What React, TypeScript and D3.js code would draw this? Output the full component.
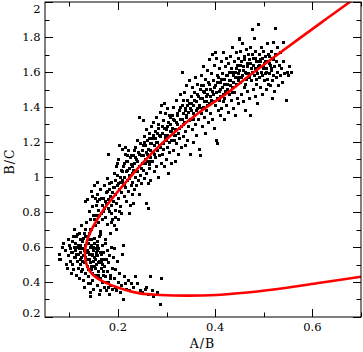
import React, { useRef, useEffect } from "react";
import { select, scaleLinear, line, curveCatmullRom, range } from "d3";

// red model curve (A/B, B/C)
const curveX = [0.700, 0.609, 0.540, 0.472, 0.403, 0.341, 0.287, 0.245, 0.204, 0.170, 0.149, 0.137, 0.132, 0.137, 0.149, 0.170, 0.197, 0.232, 0.273, 0.314, 0.369, 0.424, 0.472, 0.527, 0.616, 0.677, 0.692];
const curveY = [0.430, 0.393, 0.364, 0.341, 0.326, 0.322, 0.326, 0.335, 0.364, 0.402, 0.440, 0.487, 0.564, 0.640, 0.716, 0.811, 0.907, 1.021, 1.145, 1.250, 1.373, 1.478, 1.583, 1.697, 1.878, 2.000, 2.030];

// lower clump of points
const clumpPoints = [
  [0.080,0.56],[0.082,0.53],[0.086,0.60],[0.089,0.62],[0.092,0.58],[0.094,0.50],[0.097,0.48],
  [0.098,0.64],[0.099,0.55],[0.101,0.61],[0.102,0.59],[0.103,0.52],[0.104,0.57],[0.105,0.45],[0.106,0.63],[0.107,0.50],[0.108,0.47],[0.109,0.66],[0.110,0.54],
  [0.111,0.70],[0.112,0.62],[0.113,0.58],[0.114,0.44],[0.115,0.66],[0.116,0.52],[0.117,0.60],[0.118,0.48],[0.119,0.56],[0.120,0.42],[0.121,0.68],[0.122,0.64],[0.123,0.50],[0.124,0.57],[0.125,0.46],[0.113,0.54],[0.118,0.61],[0.122,0.53],[0.116,0.67],
  [0.126,0.72],[0.127,0.59],[0.128,0.63],[0.129,0.55],[0.130,0.41],[0.131,0.68],[0.132,0.51],[0.133,0.61],[0.134,0.45],[0.135,0.57],[0.136,0.66],[0.137,0.49],[0.138,0.53],[0.139,0.39],[0.140,0.62],[0.128,0.47],[0.131,0.37],[0.134,0.70],[0.137,0.58],[0.126,0.54],[0.139,0.43],
  [0.141,0.56],[0.142,0.68],[0.143,0.51],[0.144,0.60],[0.145,0.47],[0.146,0.64],[0.147,0.55],[0.148,0.41],[0.149,0.58],[0.150,0.36],[0.151,0.62],[0.152,0.49],[0.153,0.53],[0.154,0.44],[0.155,0.57],[0.143,0.39],[0.146,0.70],[0.149,0.52],[0.152,0.65],[0.144,0.34],[0.150,0.60],[0.147,0.45],
  [0.156,0.50],[0.157,0.63],[0.158,0.38],[0.159,0.55],[0.160,0.46],[0.161,0.59],[0.162,0.42],[0.163,0.52],[0.164,0.35],[0.165,0.67],[0.166,0.48],[0.167,0.56],[0.168,0.40],[0.169,0.61],[0.170,0.44],[0.158,0.58],[0.163,0.33],[0.167,0.51],
  [0.171,0.57],[0.172,0.37],[0.173,0.49],[0.174,0.62],[0.175,0.43],[0.176,0.53],[0.177,0.35],[0.178,0.46],[0.179,0.58],[0.180,0.40],[0.181,0.51],[0.182,0.33],[0.183,0.55],[0.184,0.44],[0.185,0.38],[0.187,0.60],[0.188,0.48],[0.189,0.36],
  [0.191,0.54],[0.192,0.42],[0.193,0.59],[0.194,0.37],[0.196,0.47],[0.197,0.35],[0.199,0.52],[0.201,0.40],[0.203,0.45],[0.205,0.34],[0.207,0.38],[0.209,0.56],
  [0.211,0.61],[0.213,0.43],[0.215,0.39],[0.218,0.36],[0.221,0.41],[0.224,0.35],[0.212,0.30],
  [0.193,0.72],[0.198,0.70],[0.186,0.74],[0.201,0.76],[0.207,0.79],[0.079,0.526],[0.143,0.32],
  [0.131,0.58],[0.134,0.54],[0.137,0.62],[0.140,0.57],[0.142,0.53],[0.145,0.61],[0.148,0.56],[0.151,0.54],[0.153,0.59],[0.156,0.55],[0.159,0.61],[0.161,0.51],[0.164,0.57],[0.166,0.53],[0.169,0.50],
  [0.124,0.61],[0.127,0.52],[0.129,0.65],[0.139,0.47],[0.146,0.49],[0.154,0.48],[0.160,0.44],[0.165,0.42],[0.171,0.46],[0.176,0.40],[0.180,0.37],[0.185,0.42],[0.173,0.53],
  [0.120,0.59],[0.115,0.56],[0.110,0.60],[0.106,0.57],[0.133,0.66],[0.141,0.64],
];

// points trailing along the lower branch
const tailPoints = [
  [0.232,0.37],[0.236,0.43],[0.240,0.39],[0.246,0.35],[0.251,0.34],[0.256,0.36],[0.259,0.37],[0.263,0.33],
  [0.268,0.43],[0.271,0.35],[0.274,0.32],[0.281,0.34],[0.288,0.27],[0.290,0.42],[0.228,0.39],
];

// upper band of points
const bandPoints = [
  [0.134,0.86],[0.138,0.87],[0.141,0.80],[0.143,0.76],[0.145,0.92],[0.147,0.83],[0.149,0.78],[0.136,0.74],[0.144,0.70],[0.148,0.89],
  [0.151,0.95],[0.153,0.72],[0.155,0.84],[0.156,0.78],[0.158,0.90],[0.160,0.81],[0.161,0.74],[0.163,0.87],[0.164,0.69],[0.165,0.93],[0.167,0.79],[0.168,0.84],[0.169,0.76],[0.157,0.97],[0.162,0.66],
  [0.152,0.76],[0.159,0.86],[0.166,0.88],[0.170,0.80],[0.174,0.86],[0.178,0.92],[0.182,0.96],[0.186,0.79],[0.190,0.94],[0.154,0.88],[0.162,0.78],[0.180,0.82],
  [0.171,0.88],[0.172,0.82],[0.173,0.95],[0.175,0.77],[0.176,0.91],[0.177,0.85],[0.178,0.99],[0.179,0.73],[0.181,0.87],[0.182,0.80],[0.183,0.93],[0.184,0.68],[0.185,0.89],[0.186,0.84],[0.187,0.97],[0.188,0.76],[0.189,0.91],[0.180,1.13],[0.174,0.64],
  [0.191,0.86],[0.192,1.02],[0.193,0.94],[0.194,0.81],[0.195,0.98],[0.196,0.90],[0.197,1.06],[0.198,0.85],[0.199,0.95],[0.200,1.01],[0.201,0.88],[0.202,1.10],[0.203,0.93],[0.204,1.18],[0.205,0.97],[0.206,0.83],[0.207,1.04],[0.208,0.91],[0.209,1.16],[0.195,0.77],[0.203,0.80],[0.199,1.08],
  [0.211,0.96],[0.212,1.06],[0.213,0.89],[0.214,1.00],[0.215,1.13],[0.216,0.94],[0.217,1.03],[0.218,0.86],[0.219,1.09],[0.220,0.98],[0.221,1.15],[0.222,0.92],[0.223,1.05],[0.224,1.01],[0.225,0.84],[0.226,1.11],[0.227,0.95],[0.228,1.07],[0.229,0.90],[0.216,1.17],[0.224,0.79],[0.230,1.02],
  [0.202,0.96],[0.206,1.00],[0.210,1.03],[0.213,0.95],[0.217,1.09],[0.220,1.04],[0.223,0.99],[0.227,1.12],[0.231,1.06],[0.234,1.15],[0.238,1.03],[0.241,1.09],[0.245,1.13],[0.248,1.05],[0.214,1.08],[0.209,0.98],[0.219,1.12],[0.236,1.11],
  [0.231,0.97],[0.232,1.12],[0.233,1.04],[0.234,0.93],[0.235,1.08],[0.236,1.00],[0.237,1.17],[0.238,0.95],[0.239,1.10],[0.240,1.03],[0.241,1.21],[0.242,0.98],[0.243,1.14],[0.244,1.06],[0.245,0.90],[0.246,1.19],[0.247,1.01],[0.248,1.12],[0.249,0.96],[0.244,1.34],[0.250,1.08],[0.233,0.85],
  [0.251,1.15],[0.252,1.32],[0.253,1.04],[0.254,1.23],[0.255,0.99],[0.256,1.18],[0.257,1.10],[0.258,1.27],[0.259,1.02],[0.260,1.13],[0.261,1.21],[0.262,0.96],[0.263,1.16],[0.264,1.07],[0.265,1.25],[0.266,1.11],[0.267,0.98],[0.268,1.19],[0.269,1.29],[0.259,0.85],[0.262,0.82],[0.265,1.05],[0.256,1.08],
  [0.252,1.12],[0.255,1.20],[0.258,1.14],[0.261,1.09],[0.264,1.22],[0.267,1.15],[0.270,1.19],[0.273,1.24],[0.276,1.13],[0.279,1.20],[0.282,1.25],[0.285,1.18],[0.288,1.23],[0.291,1.29],[0.294,1.16],[0.297,1.24],[0.253,1.18],[0.268,1.09],[0.284,1.30],[0.299,1.21],
  [0.271,1.09],[0.272,1.22],[0.273,1.14],[0.274,1.31],[0.275,1.03],[0.276,1.18],[0.277,1.26],[0.278,1.11],[0.279,1.34],[0.280,1.06],[0.281,1.20],[0.282,1.15],[0.283,1.28],[0.284,1.00],[0.285,1.24],[0.286,1.12],[0.287,1.37],[0.288,1.17],[0.289,1.08],[0.290,1.41],[0.278,1.22],
  [0.291,1.25],[0.292,1.13],[0.293,1.32],[0.294,1.19],[0.295,1.06],[0.296,1.28],[0.297,1.22],[0.298,1.36],[0.299,1.10],[0.300,1.27],[0.301,1.17],[0.302,1.39],[0.303,1.24],[0.304,1.02],[0.305,1.31],[0.306,1.20],[0.307,1.14],[0.308,1.34],[0.309,1.26],[0.310,1.08],[0.296,1.42],
  [0.302,1.29],[0.305,1.23],[0.308,1.30],[0.311,1.26],[0.314,1.33],[0.317,1.21],[0.320,1.31],[0.323,1.35],[0.326,1.28],[0.329,1.40],[0.332,1.33],[0.335,1.30],[0.338,1.38],[0.341,1.35],[0.344,1.41],[0.347,1.32],[0.306,1.35],[0.319,1.24],[0.334,1.44],[0.349,1.39],
  [0.311,1.21],[0.312,1.35],[0.313,1.28],[0.314,1.15],[0.315,1.40],[0.316,1.24],[0.317,1.32],[0.318,1.09],[0.319,1.27],[0.320,1.44],[0.321,1.19],[0.322,1.36],[0.323,1.30],[0.324,1.13],[0.325,1.25],[0.326,1.38],[0.327,1.22],[0.328,1.47],[0.329,1.33],[0.330,1.17],
  [0.331,1.29],[0.332,1.41],[0.333,1.60],[0.334,1.23],[0.335,1.36],[0.336,1.48],[0.337,1.31],[0.338,1.18],[0.339,1.39],[0.340,1.26],[0.341,1.52],[0.342,1.34],[0.343,1.44],[0.344,1.21],[0.345,1.37],[0.346,1.29],[0.347,1.55],[0.348,1.42],[0.349,1.13],[0.350,1.33],
  [0.352,1.42],[0.355,1.36],[0.358,1.44],[0.361,1.38],[0.364,1.47],[0.367,1.40],[0.370,1.45],[0.373,1.39],[0.376,1.49],[0.379,1.43],[0.382,1.50],[0.385,1.41],[0.388,1.53],[0.391,1.46],[0.394,1.49],[0.397,1.43],[0.356,1.33],[0.371,1.52],[0.383,1.46],[0.398,1.51],
  [0.351,1.46],[0.352,1.38],[0.353,1.27],[0.354,1.51],[0.355,1.41],[0.356,1.20],[0.357,1.35],[0.358,1.48],[0.359,1.30],[0.360,1.57],[0.361,1.43],[0.362,1.24],[0.363,1.39],[0.364,1.53],[0.365,1.33],[0.366,1.46],[0.367,1.16],[0.368,1.41],[0.369,1.12],[0.370,1.50],
  [0.371,1.36],[0.372,1.58],[0.373,1.45],[0.374,1.29],[0.375,1.52],[0.376,1.40],[0.377,1.63],[0.378,1.34],[0.379,1.48],[0.380,1.25],[0.381,1.56],[0.382,1.43],[0.383,1.38],[0.384,1.61],[0.385,1.47],[0.386,1.31],[0.387,1.54],[0.388,1.42],[0.389,1.67],[0.390,1.36],
  [0.391,1.50],[0.392,1.44],[0.393,1.59],[0.394,1.33],[0.395,1.70],[0.396,1.47],[0.397,1.55],[0.398,1.28],[0.399,1.64],[0.400,1.41],[0.401,1.52],[0.402,1.21],[0.403,1.68],[0.404,1.45],[0.405,1.19],[0.406,1.57],[0.407,1.38],[0.408,1.49],[0.409,1.62],[0.410,1.35],[0.400,1.71],
  [0.402,1.48],[0.405,1.54],[0.408,1.44],[0.411,1.50],[0.414,1.56],[0.417,1.47],[0.420,1.53],[0.423,1.58],[0.426,1.50],[0.429,1.55],[0.432,1.52],[0.435,1.60],[0.438,1.54],[0.441,1.57],[0.444,1.62],[0.447,1.55],[0.404,1.58],[0.419,1.45],[0.436,1.48],[0.449,1.59],
  [0.411,1.54],[0.412,1.46],[0.413,1.66],[0.414,1.39],[0.415,1.59],[0.416,1.51],[0.417,1.71],[0.418,1.43],[0.419,1.56],[0.420,1.33],[0.421,1.63],[0.422,1.49],[0.423,1.68],[0.424,1.41],[0.425,1.58],[0.426,1.53],[0.427,1.37],[0.428,1.65],[0.429,1.47],[0.430,1.60],
  [0.431,1.55],[0.432,1.69],[0.433,1.44],[0.434,1.62],[0.435,1.51],[0.436,1.74],[0.437,1.39],[0.438,1.58],[0.439,1.66],[0.440,1.48],[0.441,1.60],[0.442,1.35],[0.443,1.71],[0.444,1.53],[0.445,1.64],[0.446,1.45],[0.447,1.57],[0.448,1.68],[0.449,1.42],[0.450,1.79],[0.451,1.787],
  [0.452,1.64],[0.455,1.57],[0.458,1.61],[0.461,1.67],[0.464,1.59],[0.467,1.63],[0.470,1.57],[0.473,1.65],[0.476,1.60],[0.479,1.68],[0.482,1.62],[0.485,1.66],[0.488,1.59],[0.491,1.64],[0.494,1.67],[0.497,1.58],[0.500,1.62],[0.503,1.66],[0.506,1.60],[0.509,1.70],[0.512,1.65],[0.515,1.62],[0.518,1.68],[0.463,1.53],[0.486,1.56],
  [0.451,1.61],[0.452,1.54],[0.453,1.72],[0.454,1.47],[0.455,1.66],[0.456,1.58],[0.457,1.76],[0.458,1.43],[0.459,1.63],[0.460,1.69],[0.461,1.51],[0.462,1.60],[0.463,1.38],[0.464,1.73],[0.465,1.56],[0.466,1.65],[0.467,1.49],[0.468,1.70],[0.469,1.59],[0.470,1.45],
  [0.471,1.67],[0.472,1.35],[0.473,1.74],[0.474,1.55],[0.475,1.62],[0.476,1.84],[0.477,1.70],[0.478,1.50],[0.479,1.64],[0.480,1.79],[0.481,1.58],[0.482,1.68],[0.483,1.46],[0.484,1.72],[0.485,1.61],[0.486,1.53],[0.487,1.66],[0.488,1.42],[0.489,1.87],[0.490,1.63],
  [0.491,1.70],[0.492,1.57],[0.493,1.66],[0.494,1.51],[0.495,1.74],[0.496,1.60],[0.497,1.68],[0.498,1.47],[0.499,1.63],[0.500,1.72],[0.501,1.55],[0.502,1.65],[0.503,1.59],[0.504,1.69],[0.505,1.50],[0.506,1.62],[0.507,1.76],[0.508,1.56],[0.509,1.66],[0.510,1.53],
  [0.511,1.69],[0.512,1.59],[0.513,1.64],[0.514,1.52],[0.515,1.72],[0.516,1.61],[0.517,1.55],[0.518,1.45],[0.519,1.67],[0.520,1.77],[0.521,1.58],[0.522,1.63],[0.523,1.49],[0.524,1.85],[0.525,1.70],[0.526,1.57],[0.527,1.66],[0.528,1.60],[0.529,1.74],[0.530,1.52],
  [0.532,1.64],[0.534,1.58],[0.535,1.71],[0.537,1.62],[0.538,1.54],[0.540,1.77],[0.541,1.66],[0.543,1.59],[0.546,1.44],[0.548,1.60],[0.551,1.58],[0.553,1.63],[0.557,1.60],
];

const xMajor = [0.2, 0.4, 0.6];
const xMinor = [0.1, 0.3, 0.5, 0.7];
const yMajor = [0.2, 0.4, 0.6, 0.8, 1, 1.2, 1.4, 1.6, 1.8, 2];
const yMinor = [0.3, 0.5, 0.7, 0.9, 1.1, 1.3, 1.5, 1.7, 1.9];

export default function App() {
  const svgRef = useRef(null);

  useEffect(() => {
    const svg = select(svgRef.current);
    svg.selectAll("*").remove();

    const width = 363;
    const height = 352;
    const margin = { top: 2, right: 2, bottom: 35, left: 45 };
    const x0 = margin.left, x1 = width - margin.right;
    const y0 = height - margin.bottom, y1 = margin.top;

    const xScale = scaleLinear().domain([0.05, 0.7]).range([x0, x1]);
    const yScale = scaleLinear().domain([0.2, 2.0]).range([y0, y1]);

    svg.append("defs").append("clipPath").attr("id", "plotclip")
      .append("rect").attr("x", x0).attr("y", y1).attr("width", x1 - x0).attr("height", y0 - y1);

    const font = "'DejaVu Serif', 'Liberation Serif', serif";

    // points
    const allPoints = [...clumpPoints, ...tailPoints, ...bandPoints];
    svg.append("g")
      .selectAll("rect")
      .data(allPoints)
      .join("rect")
      .attr("x", d => Math.round(xScale(d[0]) - 1.5))
      .attr("y", d => Math.round(yScale(d[1]) - 1.5))
      .attr("width", 3)
      .attr("height", 3)
      .attr("fill", "#000")
      .attr("shape-rendering", "crispEdges");

    // red curve
    const curveData = range(curveX.length).map(i => [curveX[i], curveY[i]]);
    const curveGen = line()
      .x(d => xScale(d[0]))
      .y(d => yScale(d[1]))
      .curve(curveCatmullRom.alpha(0.5));
    svg.append("path")
      .datum(curveData)
      .attr("d", curveGen)
      .attr("fill", "none")
      .attr("stroke", "#ff0000")
      .attr("stroke-width", 2.6)
      .attr("clip-path", "url(#plotclip)");

    // frame
    svg.append("rect")
      .attr("x", x0).attr("y", y1)
      .attr("width", x1 - x0).attr("height", y0 - y1)
      .attr("fill", "none").attr("stroke", "#000").attr("stroke-width", 1);

    // ticks on all four sides, pointing inward
    const ticks = svg.append("g").attr("stroke", "#000").attr("stroke-width", 1);
    const xt = [...xMajor.map(v => [v, 8]), ...xMinor.map(v => [v, 4.5])];
    xt.forEach(([v, len]) => {
      const px = Math.round(xScale(v)) + 0.5;
      ticks.append("line").attr("x1", px).attr("x2", px).attr("y1", y0).attr("y2", y0 - len);
      ticks.append("line").attr("x1", px).attr("x2", px).attr("y1", y1).attr("y2", y1 + len);
    });
    const yt = [...yMajor.map(v => [v, 8]), ...yMinor.map(v => [v, 4.5])];
    yt.forEach(([v, len]) => {
      const py = Math.round(yScale(v)) + 0.5;
      ticks.append("line").attr("y1", py).attr("y2", py).attr("x1", x0).attr("x2", x0 + len);
      ticks.append("line").attr("y1", py).attr("y2", py).attr("x1", x1).attr("x2", x1 - len);
    });

    // tick labels
    svg.append("g")
      .selectAll("text")
      .data(xMajor)
      .join("text")
      .attr("x", d => xScale(d))
      .attr("y", 330.5)
      .attr("text-anchor", "middle")
      .attr("font-family", font)
      .attr("font-size", 11.5)
      .text(d => String(d));

    svg.append("g")
      .selectAll("text")
      .data(yMajor)
      .join("text")
      .attr("x", 40.5)
      .attr("y", d => Math.min(Math.max(yScale(d), 8.5), 312.5))
      .attr("dy", "0.36em")
      .attr("text-anchor", "end")
      .attr("font-family", font)
      .attr("font-size", 11.5)
      .text(d => String(d));

    // axis titles
    svg.append("text")
      .attr("x", 202.5)
      .attr("y", 347.5)
      .attr("text-anchor", "middle")
      .attr("font-family", font)
      .attr("font-size", 12.5)
      .attr("letter-spacing", 1)
      .text("A/B");

    svg.append("text")
      .attr("transform", `translate(13.5,${(y0 + y1) / 2 + 2}) rotate(-90)`)
      .attr("text-anchor", "middle")
      .attr("font-family", font)
      .attr("font-size", 12.5)
      .attr("letter-spacing", 1)
      .text("B/C");
  }, []);

  return (
    <svg ref={svgRef} width="363" height="352"
      style={{ position: "absolute", left: 0, top: 0, background: "#fff" }} />
  );
}
